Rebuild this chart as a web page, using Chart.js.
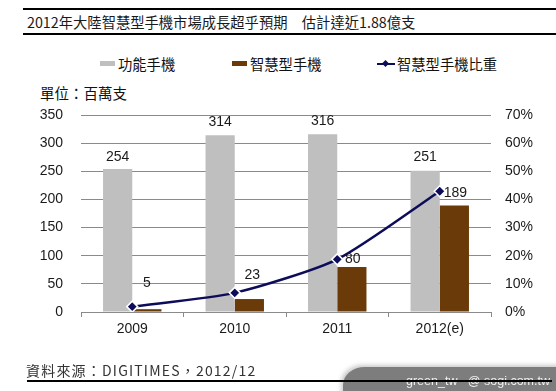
<!DOCTYPE html>
<html>
<head>
<meta charset="utf-8">
<script src="https://cdn.jsdelivr.net/npm/chart.js@4.4.1/dist/chart.umd.min.js"></script>
<style>
  html,body{margin:0;padding:0;background:#fff;}
  #wrap{position:relative;width:556px;height:391px;overflow:hidden;background:#fff;font-family:"Noto Sans CJK TC","Noto Sans",sans-serif;}
  #cv{position:absolute;left:0;top:0;}
  .hl{position:absolute;background:#000;}
  #title{position:absolute;left:27px;top:12px;font-size:14.3px;line-height:20px;color:#1a1a1a;white-space:pre;}
  #unit{position:absolute;left:40px;top:83px;font-size:14.5px;line-height:20px;color:#111;}
  .lg{position:absolute;top:54px;font-size:14.3px;line-height:20px;color:#111;white-space:nowrap;}
  .sw{position:absolute;}
  #src{position:absolute;left:26px;top:360px;font-size:14px;line-height:20px;color:#333;letter-spacing:1.2px;white-space:nowrap;}
  #wm{position:absolute;left:343px;top:367px;width:220px;height:30px;background:#7d7d7d;border-top-left-radius:22px 18px;box-shadow:-2px -2px 4px rgba(150,150,150,0.5);}
  #wmt{position:absolute;right:6px;top:373px;font-family:"Liberation Sans",Arial,sans-serif;font-size:12.5px;line-height:16px;color:#f0f0f0;white-space:pre;}
</style>
</head>
<body>
<div id="wrap">
  <div class="hl" style="left:23px;right:0;top:8px;height:1.5px;"></div>
  <div id="title">2012年大陸智慧型手機市場成長超乎預期　估計達近1.88億支</div>
  <div class="hl" style="left:23px;right:0;top:33px;height:1.5px;"></div>
  <div id="legend"></div>
  <div id="unit">單位：百萬支</div>
  <canvas id="cv" width="556" height="391"></canvas>
  <div id="src">資料來源：DIGITIMES，2012/12</div>
  <div id="wm"></div>
  <div id="wmt">green_tw   @ sogi.com.tw</div>
  <div class="hl" style="left:27px;right:4px;top:380px;height:1.5px;"></div>
</div>
<script>
// ---- data ----
const categories = ['2009', '2010', '2011', '2012(e)'];
const seriesNames = ['功能手機', '智慧型手機', '智慧型手機比重'];
const featurePhones = [254, 314, 316, 251];
const smartPhones = [5, 23, 80, 189];
const smartShare = [1.9, 6.8, 18.7, 42.9];   // percent
const leftTicks = [0, 50, 100, 150, 200, 250, 300, 350];
const rightTicks = [0, 10, 20, 30, 40, 50, 60, 70];

const GRAY = '#bfbfbf';
const BROWN = '#6a3a08';
const NAVY = '#0c0c5a';

// ---- legend (HTML) ----
(function(){
  const lg = document.getElementById('legend');
  const items = [
    {x:100, type:'box', color:GRAY, text:seriesNames[0], tx:118},
    {x:232, type:'box', color:BROWN, text:seriesNames[1], tx:250},
    {x:377, type:'line', color:NAVY, text:seriesNames[2], tx:397}
  ];
  items.forEach(it=>{
    if(it.type==='box'){
      const s=document.createElement('div');s.className='sw';
      s.style.cssText=`left:${it.x}px;top:61px;width:15px;height:5px;background:${it.color};`;
      lg.appendChild(s);
    } else {
      const s=document.createElement('div');s.className='sw';
      s.style.cssText=`left:${it.x}px;top:63px;width:18px;height:2px;background:${it.color};`;
      lg.appendChild(s);
      const d=document.createElement('div');d.className='sw';
      d.style.cssText=`left:${it.x+6}px;top:61px;width:5px;height:5px;background:${it.color};transform:rotate(45deg);`;
      lg.appendChild(d);
    }
    const t=document.createElement('div');t.className='lg';
    t.style.left=it.tx+'px';t.textContent=it.text;lg.appendChild(t);
  });
})();

// ---- labels plugin ----
const valueLabels = {
  id:'valueLabels',
  afterDatasetsDraw(chart, args, opts){
    const ctx = chart.ctx;
    ctx.save();
    ctx.font = '14px "Liberation Sans", Arial, sans-serif';
    ctx.fillStyle = '#1a1a1a';
    ctx.textAlign = 'center';
    ctx.textBaseline = 'middle';
    chart.data.datasets.forEach((ds, di)=>{
      if(ds.type==='line') return;
      const meta = chart.getDatasetMeta(di);
      const offs = opts.offsets[di];
      const dx = opts.dx[di];
      meta.data.forEach((bar, i)=>{
        ctx.fillText(String(ds.data[i]), bar.x + dx[i], bar.y - offs[i]);
      });
    });
    ctx.restore();
  }
};

const tickFont = {family:'"Liberation Sans", Arial, sans-serif', size:14};

new Chart(document.getElementById('cv'), {
  data:{
    labels:categories,
    datasets:[
      {type:'line', label:seriesNames[2], data:smartShare, yAxisID:'y1', order:0,
       borderColor:NAVY, borderWidth:2.5, tension:0.22, pointStyle:'rectRot',
       pointRadius:5.5, pointBackgroundColor:NAVY, pointBorderColor:'#ffffff', pointBorderWidth:1.5, fill:false},
      {type:'bar', label:seriesNames[0], data:featurePhones, yAxisID:'y', order:1,
       backgroundColor:GRAY, categoryPercentage:0.57, barPercentage:1.0},
      {type:'bar', label:seriesNames[1], data:smartPhones, yAxisID:'y', order:2,
       backgroundColor:BROWN, categoryPercentage:0.57, barPercentage:1.0}
    ]
  },
  options:{
    responsive:false, animation:false, devicePixelRatio:1,
    layout:{padding:{top:115, left:0, right:0, bottom:0}},
    plugins:{
      legend:{display:false}, tooltip:{enabled:false},
      valueLabels:{
        offsets:{1:[12,13,13,14], 2:[26,24,8,12]},
        dx:{1:[0,0,0,0], 2:[0,3,1,1]}
      }
    },
    scales:{
      x:{
        type:'category', offset:true,
        grid:{drawOnChartArea:false, drawTicks:true, tickLength:5, color:'#8a8a8a', offset:true},
        border:{display:true, color:'#8a8a8a', width:1},
        ticks:{font:tickFont, color:'#1a1a1a', padding:4, maxRotation:0},
        afterFit(s){ s.height = 79; }
      },
      y:{
        position:'left', min:0, max:350,
        afterBuildTicks(s){ s.ticks = leftTicks.map(v=>({value:v})); },
        grid:{color:'#8a8a8a', drawTicks:false, lineWidth:1},
        border:{display:false},
        ticks:{font:tickFont, color:'#1a1a1a', padding:18},
        afterFit(s){ s.width = 81; }
      },
      y1:{
        position:'right', min:0, max:70,
        afterBuildTicks(s){ s.ticks = rightTicks.map(v=>({value:v})); },
        grid:{drawOnChartArea:false, drawTicks:false},
        border:{display:false},
        ticks:{font:tickFont, color:'#1a1a1a', padding:14, callback:v=>v+'%'},
        afterFit(s){ s.width = 65; }
      }
    }
  },
  plugins:[valueLabels]
});
</script>
</body>
</html>
